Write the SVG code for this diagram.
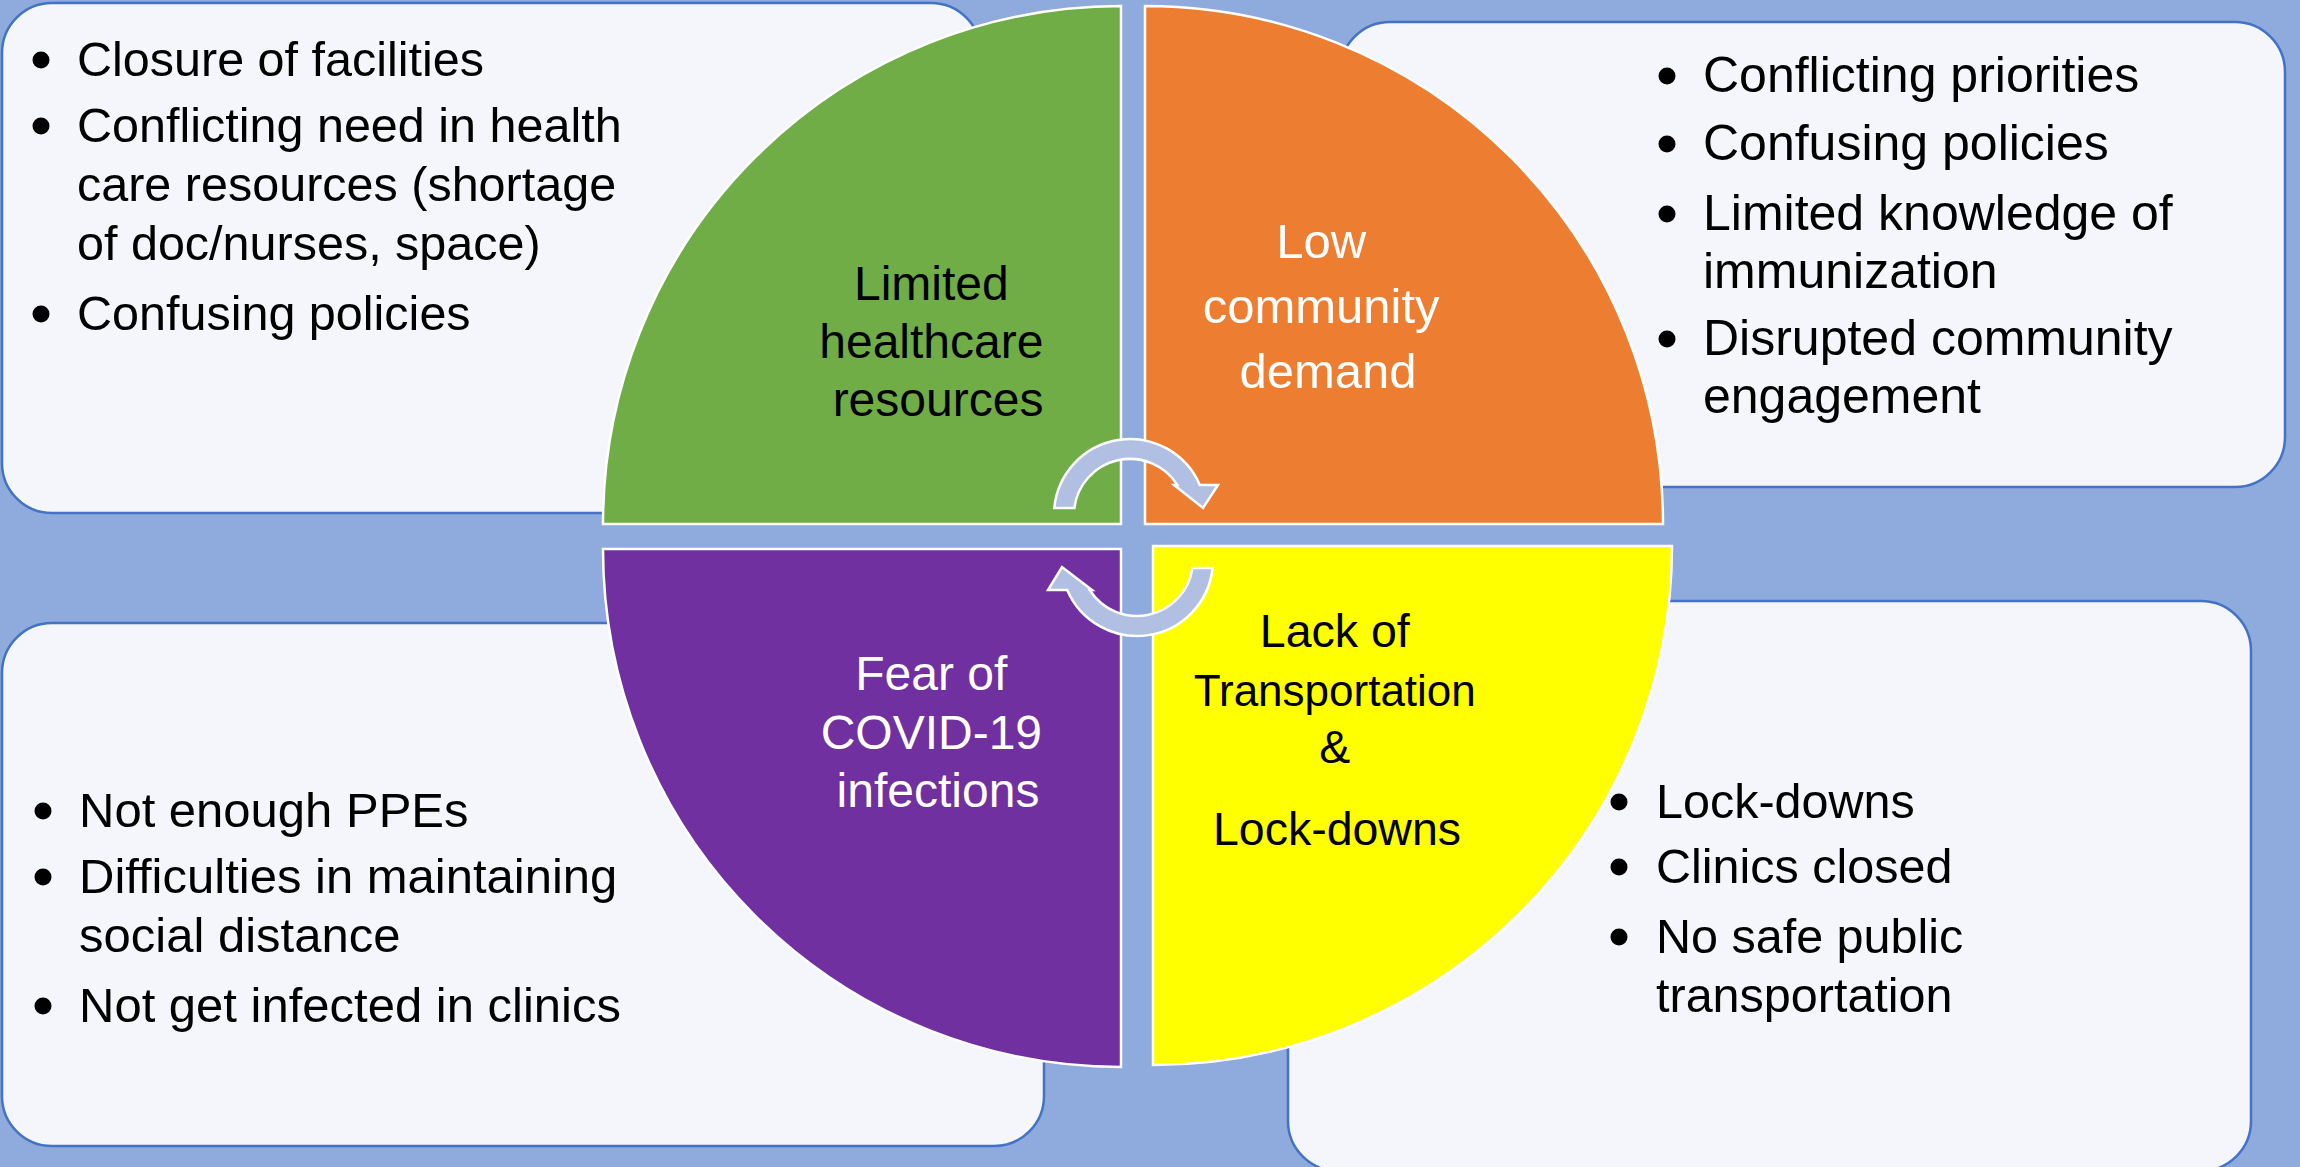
<svg xmlns="http://www.w3.org/2000/svg" width="2300" height="1167" viewBox="0 0 2300 1167">
  <style>
    .box { fill: #F4F6FB; stroke: #4472C4; stroke-width: 2.5; }
    .quad { stroke: #FFFFFF; stroke-width: 2.5; }
    .cyc { fill: #B1BFE2; stroke: #FFFFFF; stroke-width: 2.5; stroke-linejoin: miter; }
    .txt { font-family: "Liberation Sans", Arial, sans-serif; fill: #000000; }
    .lbl { font-family: "Liberation Sans", Arial, sans-serif; text-anchor: middle; }
    .dot { fill: #000000; }
  </style>

  <!-- backdrop -->
  <rect x="0" y="0" width="2300" height="1167" fill="#8FAADC"/>

  <!-- text panels behind the quarter discs -->
  <g id="panel-top-left">
    <rect class="box" x="2" y="3" width="979" height="510" rx="50" ry="50"/>
    <g class="txt" font-size="48.5">
      <circle class="dot" cx="41" cy="60" r="8.5"/>
      <text x="77" y="76">Closure of facilities</text>
      <circle class="dot" cx="41" cy="126" r="8.5"/>
      <text x="77" y="142">Conflicting need in health</text>
      <text x="77" y="201">care resources (shortage</text>
      <text x="77" y="260">of doc/nurses, space)</text>
      <circle class="dot" cx="41" cy="314" r="8.5"/>
      <text x="77" y="330">Confusing policies</text>
    </g>
  </g>

  <g id="panel-top-right">
    <rect class="box" x="1340" y="22" width="945" height="465" rx="50" ry="50"/>
    <g class="txt" font-size="50">
      <circle class="dot" cx="1667" cy="76" r="8.5"/>
      <text x="1703" y="92">Conflicting priorities</text>
      <circle class="dot" cx="1667" cy="144" r="8.5"/>
      <text x="1703" y="160">Confusing policies</text>
      <circle class="dot" cx="1667" cy="214" r="8.5"/>
      <text x="1703" y="230">Limited knowledge of</text>
      <text x="1703" y="288">immunization</text>
      <circle class="dot" cx="1667" cy="339" r="8.5"/>
      <text x="1703" y="355">Disrupted community</text>
      <text x="1703" y="413">engagement</text>
    </g>
  </g>

  <g id="panel-bottom-left">
    <rect class="box" x="2" y="623" width="1042" height="523" rx="50" ry="50"/>
    <g class="txt" font-size="49">
      <circle class="dot" cx="43" cy="811" r="8.5"/>
      <text x="79" y="827">Not enough PPEs</text>
      <circle class="dot" cx="43" cy="877" r="8.5"/>
      <text x="79" y="893">Difficulties in maintaining</text>
      <text x="79" y="952">social distance</text>
      <circle class="dot" cx="43" cy="1006" r="8.5"/>
      <text x="79" y="1022">Not get infected in clinics</text>
    </g>
  </g>

  <g id="panel-bottom-right">
    <rect class="box" x="1288" y="601" width="963" height="570" rx="50" ry="50"/>
    <g class="txt" font-size="48.5">
      <circle class="dot" cx="1619" cy="802" r="8.5"/>
      <text x="1656" y="818">Lock-downs</text>
      <circle class="dot" cx="1619" cy="867" r="8.5"/>
      <text x="1656" y="883">Clinics closed</text>
      <circle class="dot" cx="1619" cy="937" r="8.5"/>
      <text x="1656" y="953">No safe public</text>
      <text x="1656" y="1012">transportation</text>
    </g>
  </g>

  <!-- four quarter discs -->
  <g id="quad-healthcare">
    <path class="quad" fill="#70AD47" d="M1121,524 L603,524 A518,518 0 0 1 1121,6 Z"/>
    <text class="lbl" font-size="48" fill="#000000">
      <tspan x="938" y="300">Limited</tspan>
      <tspan x="938" y="358">healthcare</tspan>
      <tspan x="938" y="416">resources</tspan>
    </text>
  </g>

  <g id="quad-demand">
    <path class="quad" fill="#ED7D31" d="M1145,524 L1145,6 A518,518 0 0 1 1663,524 Z"/>
    <text class="lbl" font-size="49" fill="#FFFFFF">
      <tspan x="1328" y="258">Low</tspan>
      <tspan x="1328" y="323">community</tspan>
      <tspan x="1328" y="388">demand</tspan>
    </text>
  </g>

  <g id="quad-fear">
    <path class="quad" fill="#7030A0" d="M1121,549 L1121,1067 A518,518 0 0 1 603,549 Z"/>
    <text class="lbl" font-size="48" fill="#FFFFFF">
      <tspan x="938" y="690">Fear of</tspan>
      <tspan x="938" y="749">COVID-19</tspan>
      <tspan x="938" y="807">infections</tspan>
    </text>
  </g>

  <g id="quad-transport">
    <path class="quad" fill="#FFFF00" d="M1153,546 L1672,546 A519,519 0 0 1 1153,1065 Z"/>
    <text class="lbl" fill="#000000">
      <tspan x="1337" y="647" font-size="46.5">Lack of</tspan>
      <tspan x="1337" y="706" font-size="44">Transportation</tspan>
      <tspan x="1337" y="763" font-size="46.5">&amp;</tspan>
      <tspan x="1337" y="845" font-size="46.5">Lock-downs</tspan>
    </text>
  </g>

  <!-- cycle arrows in the middle -->
  <g id="connectors">
    <path class="cyc" d="M1054.3,508 A76,76 0 0 1 1199.8,485 L1218,485 L1203,508 L1174,485 L1177.3,485 A56,56 0 0 0 1074.4,508 Z"/>
    <path class="cyc" d="M1212.6,568 A76,76 0 0 1 1067.2,590 L1048,590 L1062,567 L1092,590 L1089.7,590 A56,56 0 0 0 1192.4,568 Z"/>
  </g>
</svg>
